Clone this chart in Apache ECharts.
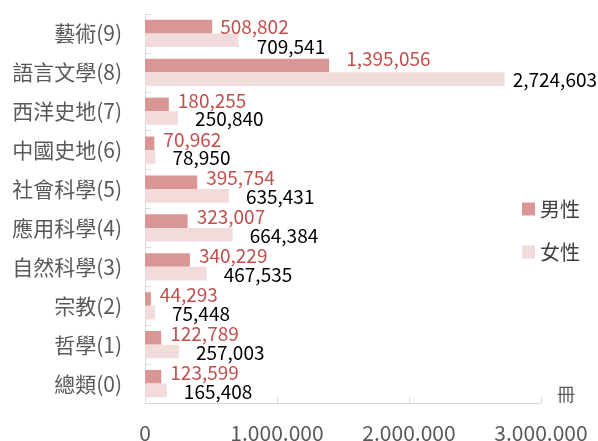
<!DOCTYPE html>
<html>
<head>
<meta charset="utf-8">
<script src="https://cdn.jsdelivr.net/npm/echarts@6/dist/echarts.min.js"></script>
<style>
  html, body { margin: 0; padding: 0; background: #fff; }
  #chart { width: 598px; height: 441px; }
</style>
</head>
<body>
<div id="chart"></div>
<script>
const categories = ['藝術(9)', '語言文學(8)', '西洋史地(7)', '中國史地(6)', '社會科學(5)',
    '應用科學(4)', '自然科學(3)', '宗教(2)', '哲學(1)', '總類(0)'];
const maleValues = [508802, 1395056, 180255, 70962, 395754, 323007, 340229, 44293, 122789, 123599];
const femaleValues = [709541, 2724603, 250840, 78950, 635431, 664384, 467535, 75448, 257003, 165408];
const seriesNames = ['男性', '女性'];
const unitLabel = '冊';

const FONT = '"Noto Sans CJK TC", "Noto Sans", sans-serif';

function commas(v) {
    return String(v).replace(/\B(?=(\d{3})+(?!\d))/g, ',');
}
function dots(v) {
    return String(v).replace(/\B(?=(\d{3})+(?!\d))/g, '.');
}

// 標籤位置微調（避開重疊，如原圖）
const maleLabelTweak = { 0: { distance: 8, offset: [0, 0] }, 1: { distance: 17, offset: [0, -7] } };
const femaleLabelTweak = { 0: { distance: 18, offset: [0, 7] }, 1: { distance: 8, offset: [0, 1] } };

function withLabels(values, tweaks) {
    return values.map((v, i) => tweaks[i] ? { value: v, label: tweaks[i] } : v);
}

const chart = echarts.init(document.getElementById('chart'));

chart.setOption({
    animation: false,
    textStyle: { fontFamily: FONT },
    legend: {
        orient: 'vertical',
        left: 517,
        top: 194,
        itemWidth: 13,
        itemHeight: 13,
        itemGap: 23,
        icon: 'rect',
        textStyle: { fontSize: 20, color: '#404040', fontFamily: FONT },
        data: seriesNames
    },
    grid: {
        left: 145,
        right: 57,
        top: 14,
        bottom: 38,
        outerBoundsMode: 'none'
    },
    xAxis: {
        type: 'value',
        min: 0,
        max: 3000000,
        interval: 1000000,
        name: unitLabel,
        nameLocation: 'end',
        nameGap: 16,
        nameTextStyle: { fontSize: 18, color: '#595959', verticalAlign: 'bottom', fontFamily: FONT },
        axisLine: { show: true, lineStyle: { color: '#d9d9d9', width: 1 } },
        axisTick: { show: true, inside: true, length: 6, lineStyle: { color: '#d9d9d9' } },
        splitLine: { show: false },
        axisLabel: {
            margin: 20,
            fontSize: 21,
            color: '#595959',
            fontFamily: FONT,
            formatter: v => dots(v)
        }
    },
    yAxis: {
        type: 'category',
        inverse: true,
        data: categories,
        axisLine: { show: true, lineStyle: { color: '#d9d9d9', width: 1 } },
        axisTick: { show: true, inside: true, length: 6, lineStyle: { color: '#d9d9d9' } },
        axisLabel: { margin: 23, fontSize: 21, color: '#595959', fontFamily: FONT }
    },
    series: [
        {
            name: seriesNames[0],
            type: 'bar',
            barGap: '0%',
            barCategoryGap: '30%',
            itemStyle: { color: '#d99694' },
            label: {
                show: true,
                position: 'right',
                distance: 9,
                offset: [0, -4],
                fontSize: 19,
                color: '#c0504d',
                fontFamily: FONT,
                formatter: p => commas(p.value)
            },
            data: withLabels(maleValues, maleLabelTweak)
        },
        {
            name: seriesNames[1],
            type: 'bar',
            barGap: '0%',
            barCategoryGap: '30%',
            itemStyle: { color: '#f2dcdb' },
            label: {
                show: true,
                position: 'right',
                distance: 17,
                offset: [0, 1],
                fontSize: 19,
                color: '#000000',
                fontFamily: FONT,
                formatter: p => commas(p.value)
            },
            data: withLabels(femaleValues, femaleLabelTweak)
        }
    ]
});
</script>
</body>
</html>
